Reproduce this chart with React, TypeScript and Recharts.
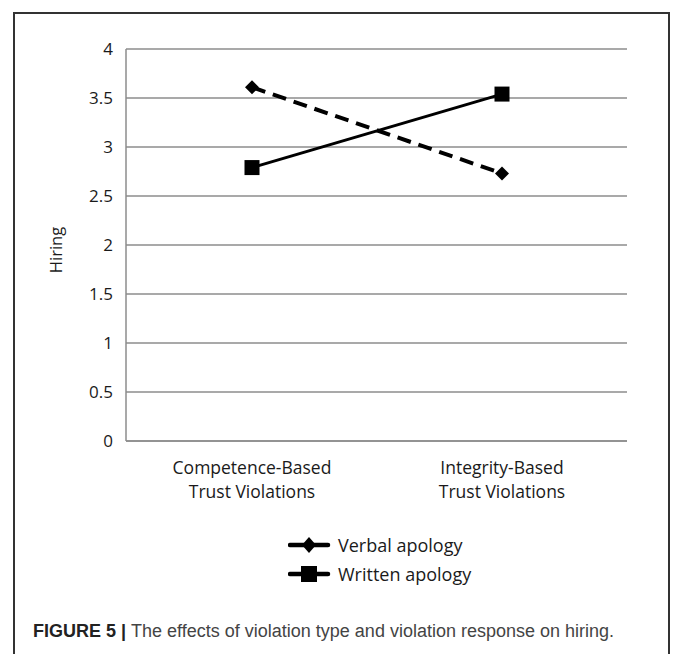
import { LineChart, Line, XAxis, YAxis, CartesianGrid, Legend } from 'recharts';

const categories = ['Competence-Based\nTrust Violations', 'Integrity-Based\nTrust Violations'];
const verbalApology = [3.61, 2.73];
const writtenApology = [2.79, 3.54];
const yTicks = [0, 0.5, 1, 1.5, 2, 2.5, 3, 3.5, 4];

const data = categories.map((name, i) => ({
  name,
  verbal: verbalApology[i],
  written: writtenApology[i],
}));

const FONT = '"Open Sans", "Noto Sans", sans-serif';

function CategoryTick({ x, y, payload }: any) {
  const lines = String(payload.value).split('\n');
  return (
    <text x={x} y={y} textAnchor="middle" fontFamily={FONT} fontSize={17.5} fill="#1a1a1a">
      {lines.map((l, i) => (
        <tspan key={i} x={x} dy={i === 0 ? 25 : 24}>
          {l}
        </tspan>
      ))}
    </text>
  );
}

function DiamondDot({ cx, cy }: any) {
  if (cx == null || cy == null) return null;
  const r = 7;
  return <polygon points={`${cx},${cy - r} ${cx + r},${cy} ${cx},${cy + r} ${cx - r},${cy}`} fill="#000" />;
}

function SquareDot({ cx, cy }: any) {
  if (cx == null || cy == null) return null;
  const s = 15;
  return <rect x={cx - s / 2} y={cy - s / 2} width={s} height={s} fill="#000" />;
}

const legendItems = [
  { key: 'verbal', label: 'Verbal apology', marker: 'diamond' },
  { key: 'written', label: 'Written apology', marker: 'square' },
];

function LegendContent() {
  return (
    <div style={{ fontFamily: FONT, fontSize: 18, color: '#1a1a1a' }}>
      {legendItems.map((it) => (
        <div key={it.key} style={{ display: 'flex', alignItems: 'center', height: 29 }}>
          <svg width={44} height={20} style={{ marginRight: 6 }}>
            <line x1={2} y1={10} x2={40} y2={10} stroke="#000" strokeWidth={4.5} strokeLinecap="round" />
            {it.marker === 'diamond' ? (
              <polygon points="21,2 28,10 21,18 14,10" fill="#000" />
            ) : (
              <rect x={13} y={2} width={16} height={16} fill="#000" />
            )}
          </svg>
          <span>{it.label}</span>
        </div>
      ))}
    </div>
  );
}

function HiringLabel({ viewBox }: any) {
  const cx = viewBox.x - 1;
  const cy = viewBox.y + viewBox.height / 2 + 5;
  return (
    <text
      x={cx}
      y={cy}
      transform={`rotate(-90, ${cx}, ${cy})`}
      textAnchor="middle"
      dominantBaseline="central"
      fontFamily={FONT}
      fontSize={16.5}
      fill="#1a1a1a"
    >
      Hiring
    </text>
  );
}

export default function App() {
  return (
    <div style={{ position: 'absolute', left: 0, top: 0, width: 674, height: 654, background: '#fff', overflow: 'hidden' }}>
      <div
        style={{
          position: 'absolute',
          left: 13,
          top: 12,
          width: 657,
          height: 700,
          border: '2px solid #333',
          boxSizing: 'border-box',
        }}
      />
      <div style={{ position: 'absolute', left: 0, top: 0 }}>
        <LineChart width={674} height={654} data={data} margin={{ top: 49, right: 47, bottom: 133, left: 56 }}>
          <CartesianGrid vertical={false} stroke="#8c8c8c" strokeWidth={1.5} />
          <XAxis
            dataKey="name"
            padding={{ left: 126, right: 125 }}
            height={80}
            tickLine={false}
            axisLine={{ stroke: '#8c8c8c', strokeWidth: 1.5 }}
            tick={<CategoryTick />}
            interval={0}
          />
          <YAxis
            width={70}
            domain={[0, 4]}
            ticks={yTicks}
            tickLine={false}
            tickMargin={7}
            axisLine={{ stroke: '#8c8c8c', strokeWidth: 1.5 }}
            tick={{ fontFamily: FONT, fontSize: 17, fill: '#1a1a1a' }}
            label={<HiringLabel />}
          />
          <Legend
            layout="vertical"
            verticalAlign="middle"
            align="center"
            wrapperStyle={{ left: 288, top: 530, width: 220 }}
            content={<LegendContent />}
          />
          <Line
            type="linear"
            dataKey="verbal"
            name="Verbal apology"
            stroke="#000"
            strokeWidth={4}
            strokeDasharray="14 8"
            dot={<DiamondDot />}
            activeDot={false}
            isAnimationActive={false}
          />
          <Line
            type="linear"
            dataKey="written"
            name="Written apology"
            stroke="#000"
            strokeWidth={3}
            dot={<SquareDot />}
            activeDot={false}
            isAnimationActive={false}
          />
        </LineChart>
      </div>
      <div
        style={{
          position: 'absolute',
          left: 33,
          top: 621,
          fontFamily: '"Liberation Sans", Arial, sans-serif',
          fontSize: 18,
          color: '#444',
          whiteSpace: 'nowrap',
        }}
      >
        <b style={{ color: '#222' }}>FIGURE 5 | </b>The effects of violation type and violation response on hiring.
      </div>
    </div>
  );
}
